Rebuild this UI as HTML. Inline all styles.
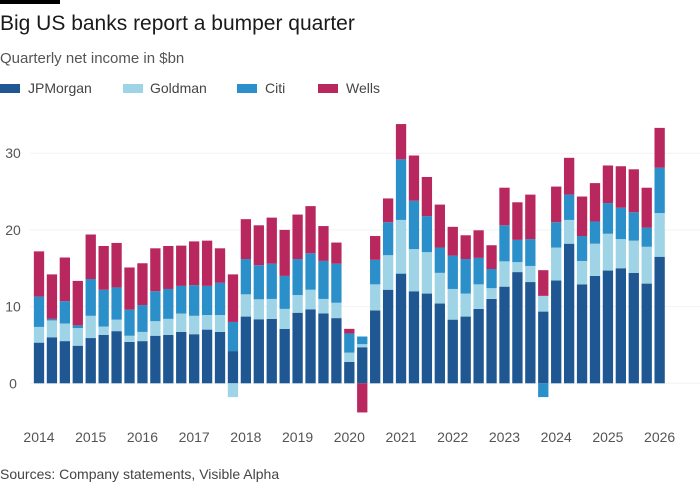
<!DOCTYPE html>
<html><head><meta charset="utf-8"><style>
body{margin:0;background:#fff;}
svg{display:block;font-family:"Liberation Sans",sans-serif;}
</style></head><body>
<svg id="chart" width="700" height="500">
<rect x="0" y="0" width="60" height="4" fill="#000"/>
<text x="0" y="30" font-size="21" fill="#1a1a1a">Big US banks report a bumper quarter</text>
<text x="0" y="63" font-size="15" fill="#555">Quarterly net income in $bn</text>
<g>
<rect x="0" y="84" width="20" height="9" fill="#1e5791"/>
<text x="28" y="93" font-size="14" fill="#444">JPMorgan</text>
<rect x="123" y="84" width="20" height="9" fill="#9fd4e6"/>
<text x="150" y="93" font-size="14" fill="#444">Goldman</text>
<rect x="237" y="84" width="20" height="9" fill="#2b8fca"/>
<text x="265" y="93" font-size="14" fill="#444">Citi</text>
<rect x="318" y="84" width="20" height="9" fill="#b8275d"/>
<text x="346" y="93" font-size="14" fill="#444">Wells</text>
</g>
<g id="plot"></g>
<text x="0" y="479" font-size="14" fill="#444">Sources: Company statements, Visible Alpha</text>
</svg>
<script>
const years = [2014,2015,2016,2017,2018,2019,2020,2021,2022,2023,2024,2025,2026];
const yTicks = [0,10,20,30];
const jpm = [5.3,6.0,5.5,4.9, 5.9,6.3,6.8,5.4, 5.5,6.2,6.3,6.7, 6.4,7.0,6.7,4.2, 8.7,8.35,8.4,7.1, 9.2,9.65,9.1,8.5, 2.8,4.7,9.5,12.2, 14.3,12.0,11.7,10.4, 8.3,8.7,9.7,11.0, 12.6,14.5,13.2,9.35, 13.4,18.2,12.9,14.0, 14.7,15.0,14.4,13.0, 16.5];
const goldman = [2.05,2.2,2.3,2.3, 2.9,1.1,1.5,0.8, 1.2,1.9,2.1,2.4, 2.4,1.9,2.2,-1.8, 2.9,2.6,2.6,2.6, 2.3,2.55,1.9,2.0, 1.2,0.4,3.4,4.5, 7.0,5.5,5.4,4.0, 4.0,3.0,3.2,1.4, 3.3,1.3,2.1,2.05, 4.3,3.1,3.05,4.2, 4.8,3.8,4.2,4.8, 5.7];
const citi = [3.95,0.2,2.9,0.35, 4.8,4.8,4.2,3.4, 3.5,3.9,3.9,3.6, 4.0,3.8,4.2,3.8, 4.6,4.45,4.6,4.3, 4.7,4.75,4.96,5.1, 2.5,1.0,3.2,4.3, 7.9,6.3,4.7,3.3, 4.35,4.5,3.45,2.5, 4.7,2.9,3.5,-1.8, 3.3,3.3,3.25,2.9, 4.0,4.1,3.7,2.5, 5.9];
const wells = [5.9,5.8,5.7,5.8, 5.8,5.7,5.8,5.5, 5.45,5.6,5.6,5.25, 5.7,5.9,4.5,6.2, 5.2,5.2,6.0,6.0, 5.8,6.15,4.54,2.75, 0.6,-3.8,3.1,3.1, 4.6,5.9,5.1,5.6, 3.75,3.1,3.6,3.1, 4.9,4.9,5.8,3.35, 4.65,4.8,5.15,5.0, 4.9,5.4,5.6,5.2, 5.2];
const seriesNames = ['jpmorgan','goldman','citi','wells'];
const colors = ['#1e5791','#9fd4e6','#2b8fca','#b8275d'];

const NS='http://www.w3.org/2000/svg';
const plot=document.getElementById('plot');
const x0=39, step=12.93, bw=10.3;
const yScale=v=>383.3-v*7.67;
const xScale=i=>x0+i*step;
function mk(tag,attrs){const e=document.createElementNS(NS,tag);for(const k in attrs)e.setAttribute(k,attrs[k]);return e;}
yTicks.forEach(t=>{
  const g=mk('line',{x1:30,x2:700,y1:yScale(t),y2:yScale(t),stroke:'#f2f2f2','stroke-width':1});
  
  
  plot.appendChild(g);
  const tx=mk('text',{x:13,y:yScale(t)+5,'font-size':14,fill:'#555','text-anchor':'middle'});
  tx.textContent=t;
  
  
  plot.appendChild(tx);
});
const all=[jpm,goldman,citi,wells];
for(let i=0;i<jpm.length;i++){
  let pos=0,neg=0;
  all.forEach((s,k)=>{
    const v=s[i];
    let a,b;
    if(v>=0){a=pos;b=pos+v;pos=b;}else{a=neg+v;b=neg;neg=a;}
    const r=mk('rect',{x:xScale(i)-bw/2,y:yScale(b),width:bw,height:Math.max(0,yScale(a)-yScale(b)),fill:colors[k]});
    
    
    plot.appendChild(r);
  });
}
years.forEach((yr,j)=>{
  const tx=mk('text',{x:xScale(j*4),y:442,'font-size':14,fill:'#555','text-anchor':'middle'});
  tx.textContent=yr;
  
  
  plot.appendChild(tx);
});
</script>
</body></html>
